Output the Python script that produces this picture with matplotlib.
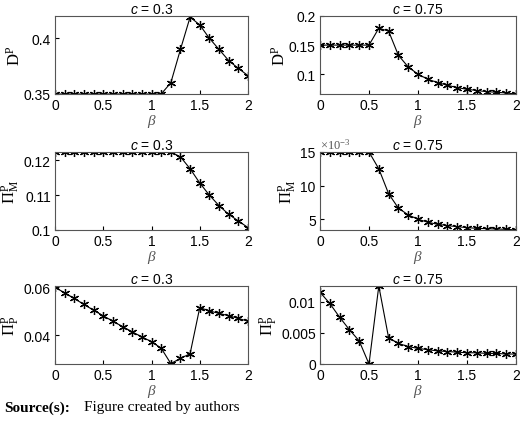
import matplotlib
matplotlib.use('Agg')
import matplotlib.pyplot as plt
import numpy as np

plt.rcParams['font.family'] = ['Liberation Sans', 'DejaVu Sans']
plt.rcParams['mathtext.fontset'] = 'custom'
plt.rcParams['mathtext.rm'] = 'Liberation Serif'
plt.rcParams['mathtext.it'] = 'Liberation Serif:italic'
plt.rcParams['mathtext.sf'] = 'Liberation Sans:italic'

beta = np.round(np.arange(0, 2.01, 0.1), 1)

# c = 0.3
d_03 = [0.35] * 12 + [0.36, 0.39, 0.419, 0.412, 0.40, 0.39, 0.380, 0.373, 0.3665]
pim_03 = [0.1224] * 13 + [0.121, 0.1176, 0.1135, 0.110, 0.107, 0.1045, 0.1026, 0.1007]
pip_03 = [0.0600, 0.0576, 0.0553, 0.0528, 0.0504, 0.0481, 0.0458, 0.0436, 0.0414,
          0.0393, 0.0373, 0.0346, 0.0282, 0.0303, 0.0323, 0.0515, 0.0501, 0.0491,
          0.0481, 0.0470, 0.0458]

# c = 0.75
d_075 = [0.15] * 6 + [0.179, 0.174, 0.1325, 0.1125, 0.1, 0.0914, 0.0856, 0.081,
                      0.077, 0.0741, 0.072, 0.070, 0.069, 0.0678, 0.066]
pim_075 = [15] * 6 + [12.5, 8.8, 6.65, 5.65, 5.0, 4.55, 4.25, 4.05, 3.9, 3.75,
                      3.65, 3.6, 3.55, 3.5, 3.4]
pip_075 = [0.0115, 0.0097, 0.0075, 0.0055, 0.0037, 0.0, 0.0125, 0.0042, 0.0033,
           0.0028, 0.0025, 0.0023, 0.0021, 0.0020, 0.0019, 0.0018, 0.0018, 0.0017,
           0.0017, 0.0016, 0.0016]

t03 = r'$\mathsf{c}$ = 0.3'
t075 = r'$\mathsf{c}$ = 0.75'
panels = [
    (d_03, r'$\mathrm{D}^{\mathrm{P}}$', t03, (0.35, 0.42), [0.35, 0.4], ['0.35', '0.4']),
    (d_075, r'$\mathrm{D}^{\mathrm{P}}$', t075, (0.066, 0.2), [0.1, 0.15, 0.2], ['0.1', '0.15', '0.2']),
    (pim_03, r'$\Pi_{\mathrm{M}}^{\mathrm{P}}$', t03, (0.1, 0.1224), [0.1, 0.11, 0.12], ['0.1', '0.11', '0.12']),
    (pim_075, r'$\Pi_{\mathrm{M}}^{\mathrm{P}}$', t075, (3.4, 15), [5, 10, 15], ['5', '10', '15']),
    (pip_03, r'$\Pi_{\mathrm{P}}^{\mathrm{P}}$', t03, (0.028, 0.0605), [0.04, 0.06], ['0.04', '0.06']),
    (pip_075, r'$\Pi_{\mathrm{P}}^{\mathrm{P}}$', t075, (0, 0.0125), [0, 0.005, 0.01], ['0', '0.005', '0.01']),
]

W, H = 520, 427
lefts = [55, 320]
widths = [193, 196]
tops = [17, 153, 287]
height = 78

fig = plt.figure(figsize=(5.2, 4.27), dpi=100)
for i, (vals, ylab, title, ylim, yt, ytl) in enumerate(panels):
    r, c = divmod(i, 2)
    ax = fig.add_axes([lefts[c] / W, 1 - (tops[r] + height) / H, widths[c] / W, height / H])
    ax.plot(beta, vals, color='black', lw=0.8, marker=(6, 2, 0), ms=6.5, mew=0.9)
    ax.set_xlim(0, 2)
    ax.set_ylim(*ylim)
    ax.set_xticks([0, 0.5, 1, 1.5, 2])
    ax.set_xticklabels(['0', '0.5', '1', '1.5', '2'])
    ax.set_yticks(yt)
    ax.set_yticklabels(ytl)
    ax.tick_params(labelsize=10, direction='in', length=3, pad=3)
    ax.set_title(title, fontsize=10, pad=2)
    ax.set_xlabel(r'$\beta$', fontsize=11, color='#555555', labelpad=0)
    ax.set_ylabel(ylab, fontsize=12, labelpad=1)
    for s in ax.spines.values():
        s.set_color('#555555')
    if i == 3:
        ax.text(0.0, 1.01, r'$\times10^{-3}$', transform=ax.transAxes, fontsize=9,
                color='#555555', va='bottom')

fig.text(4 / W, 1 - 408 / H, 'Source(s):', fontsize=11, fontweight='bold',
         family='Liberation Serif', va='center')
fig.text(84 / W, 1 - 408 / H, 'Figure created by authors', fontsize=11,
         family='Liberation Serif', va='center')

fig.savefig('out.png', dpi=100)
